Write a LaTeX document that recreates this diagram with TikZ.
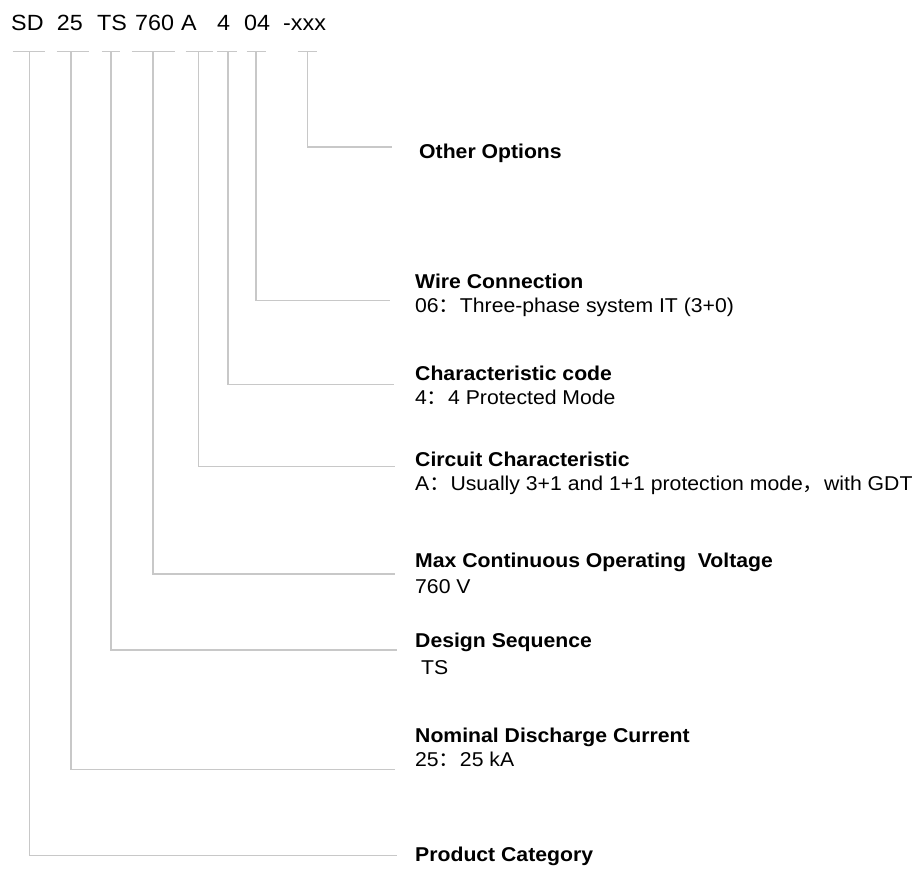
\documentclass[tikz,border=0pt]{standalone}
\usepackage{fontspec}
\setmainfont[FakeStretch=1.06]{Liberation Sans}
\newfontfamily\cjk[FakeStretch=1.06]{Noto Sans CJK SC}
\definecolor{linegray}{RGB}{200,200,200}
\newcommand{\zcolon}{{\cjk ：}}
\newcommand{\zcomma}{{\cjk ，}}

\begin{document}
\begin{tikzpicture}[x=1pt,y=-1pt,
  lead/.style={draw=linegray, line width=1.5pt},
  codetxt/.style={anchor=base west, inner sep=0pt, font=\fontsize{22}{26}\selectfont},
  ttl/.style={anchor=base west, inner sep=0pt, font=\fontsize{20}{24}\selectfont\bfseries},
  dsc/.style={anchor=base west, inner sep=0pt, font=\fontsize{20}{24}\selectfont}]

\useasboundingbox (0,0) rectangle (917,868);

% Model code
\node[codetxt] (sd)  at (11,30)  {SD};
\node[codetxt] (ka)  at (56.7,30) {25};
\node[codetxt] (ts)  at (97,30)  {TS};
\node[codetxt] (uc)  at (135,30) {760};
\node[codetxt] (cc)  at (181,30) {A};
\node[codetxt] (pm)  at (217,30) {4};
\node[codetxt] (wc)  at (244,30) {04};
\node[codetxt] (opt) at (283,30) {-xxx};

% Ticks under the code
\foreach \name/\a/\b/\x in {t1/12.7/45/29.5, t2/56.7/89.3/71, t3/101.7/120/111,
    t4/131.7/175/153, t5/185.7/213.3/198.5, t6/217/236.7/228, t7/246.7/265.7/256,
    t8/297.7/317/307.3} {
  \draw[lead] (\a,51.7) -- (\b,51.7);
  \coordinate (\name) at (\x,51.7);
}

% Labels
\node[ttl] (oth)   at (419,158.3) {Other Options};
\node[ttl] (wire)  at (415,288.3) {Wire Connection};
\node[dsc] (wired) at (415,312.3) {06\zcolon Three-phase system IT (3+0)};
\node[ttl] (chr)   at (415,380)   {Characteristic code};
\node[dsc] (chrd)  at (415,404)   {4\zcolon 4 Protected Mode};
\node[ttl] (circ)  at (415,466.7) {Circuit Characteristic};
\node[dsc] (circd) at (415,490.7) {A\zcolon Usually 3+1 and 1+1 protection mode\zcomma with GDT};
\node[ttl] (mcov)  at (415,567)   {Max Continuous Operating\ \ Voltage};
\node[dsc] (mcovd) at (415,593.3) {760 V};
\node[ttl] (dseq)  at (415,647.3) {Design Sequence};
\node[dsc] (dseqd) at (415,674.3) {\ TS};
\node[ttl] (nom)   at (415,742.7) {Nominal Discharge Current};
\node[dsc] (nomd)  at (415,766.7) {25\zcolon 25 kA};
\node[ttl] (prod)  at (415,861.7) {Product Category};

% Leader ends
\coordinate (e8) at (392,147);
\coordinate (e7) at (390,300.7);
\coordinate (e6) at (394,384.3);
\coordinate (e5) at (395,466.3);
\coordinate (e4) at (395,574);
\coordinate (e3) at (397,650);
\coordinate (e2) at (395,769.3);
\coordinate (e1) at (397,855.7);

% Leaders
\foreach \i in {1,...,8} {
  \draw[lead] (t\i) |- (e\i);
}
\end{tikzpicture}
\end{document}
